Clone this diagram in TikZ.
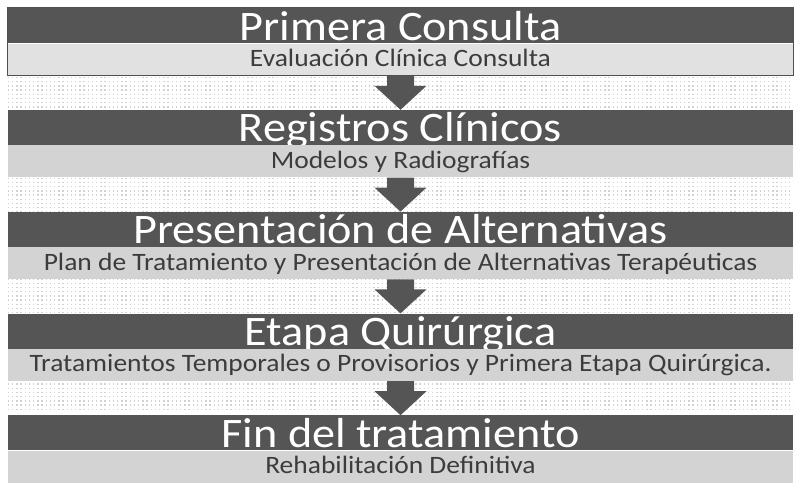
\documentclass[tikz,border=0pt]{standalone}
\usepackage{fontspec}
\setmainfont{Carlito}
\newfontfamily\bandfont{Carlito}[FakeStretch=1.1]
\usetikzlibrary{positioning,calc,patterns}

\definecolor{bandgray}{HTML}{555555}
\definecolor{subgray}{HTML}{D3D3D3}
\definecolor{subfirst}{HTML}{E1E1E1}
\definecolor{textgray}{HTML}{3C3C3C}

\pgfdeclarepatternformonly{sparsedots}{\pgfqpoint{-1bp}{-1bp}}{\pgfqpoint{1bp}{1bp}}{\pgfqpoint{4.2bp}{4.2bp}}%
  {\pgfpathrectangle{\pgfqpoint{-.7bp}{-.7bp}}{\pgfqpoint{1.4bp}{1.4bp}}\pgfusepath{fill}}

\begin{document}
\begin{tikzpicture}[
  x=1bp,y=-1bp,
  step_title/.style={fill=bandgray,text=white,inner sep=0pt,minimum width=785bp,minimum height=35bp,
    text height=32bp,text depth=3bp,font=\bandfont\fontsize{42bp}{42bp}\selectfont},
  step_sub/.style={fill=subgray,text=textgray,inner sep=0pt,minimum width=785bp,minimum height=32bp,
    text height=23bp,text depth=9bp,font=\bandfont\fontsize{25bp}{25bp}\selectfont},
  arrow_fill/.style={fill=bandgray}
  ]
  \useasboundingbox (0,0) rectangle (800,485);
  \fill[white] (0,0) rectangle (800,485);
  \fill[pattern=sparsedots,pattern color=gray!35] (8,76) rectangle (793,412);

  \node[step_title,anchor=north] (T1) at (400.5,8) {Primera Consulta};
  \node[step_sub,fill=subfirst,below=0pt of T1] (S1) {Evaluación Clínica Consulta};
  \draw[textgray!90,line width=1bp] (T1.north west) rectangle (S1.south east);

  \node[step_title,below=34bp of S1] (T2) {Registros Clínicos};
  \node[step_sub,below=0pt of T2] (S2) {Modelos y Radiografías};

  \node[step_title,below=34bp of S2] (T3) {Presentación de Alternativas};
  \node[step_sub,below=0pt of T3] (S3) {Plan de Tratamiento y Presentación de Alternativas Terapéuticas};

  \node[step_title,below=34bp of S3] (T4) {Etapa Quirúrgica};
  \node[step_sub,below=0pt of T4] (S4) {Tratamientos Temporales o Provisorios y Primera Etapa Quirúrgica.};

  \node[step_title,below=34bp of S4] (T5) {Fin del tratamiento};
  \node[step_sub,below=0pt of T5] (S5) {Rehabilitación Definitiva};

  % block arrows between the steps
  \foreach \a/\b in {S1/T2,S2/T3,S3/T4,S4/T5}
    \fill[arrow_fill] ($(\a.south)+(-13.5,0)$) -- ($(\a.south)+(13.5,0)$)
      -- ($(\a.south)+(13.5,10)$) -- ($(\a.south)+(26,10)$) -- (\b.north)
      -- ($(\a.south)+(-26,10)$) -- ($(\a.south)+(-13.5,10)$) -- cycle;
\end{tikzpicture}
\end{document}
